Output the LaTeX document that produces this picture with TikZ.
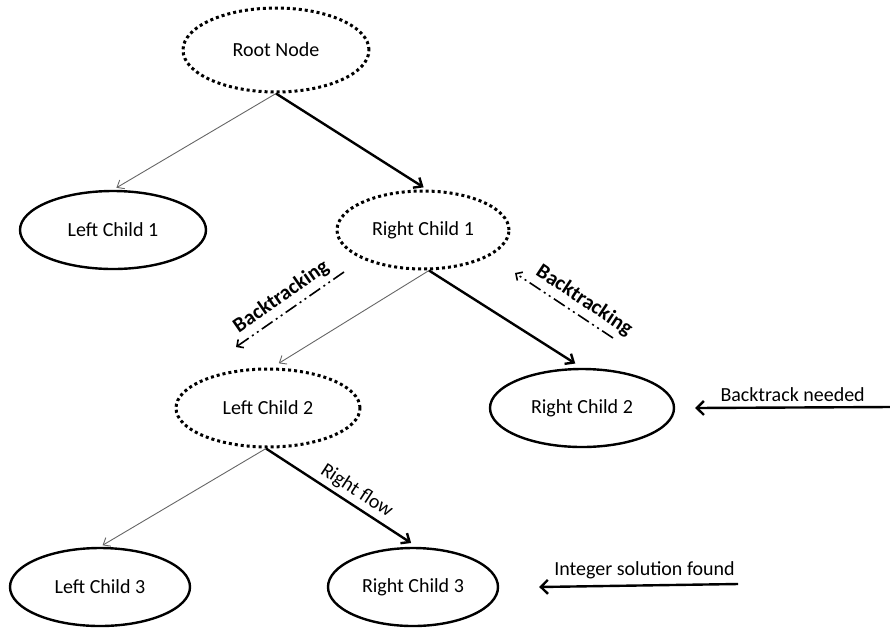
\documentclass[tikz,border=0pt]{standalone}
\usepackage{fontspec}
\setmainfont{Carlito}
\usetikzlibrary{arrows.meta,shapes.geometric}

\begin{document}
\begin{tikzpicture}[x=1pt,y=-1pt,
  every node/.style={font=\fontsize{20}{24}\selectfont},
  solidnode/.style={ellipse, draw, line width=2.4pt, inner sep=0pt,
    minimum width=184pt, minimum height=78pt},
  dottednode/.style={ellipse, draw, line width=3pt, inner sep=0pt,
    dash pattern=on 3pt off 3pt, minimum width=184pt, minimum height=78pt},
  thinedge/.style={draw=black!60, line width=0.9pt,
    -{Straight Barb[length=6pt,width=10pt]}},
  thickedge/.style={line width=2.4pt,
    -{Straight Barb[length=7pt,width=12pt]}},
  backedge/.style={line width=1.6pt,
    dash pattern=on 13pt off 4pt on 2pt off 4pt on 2pt off 4pt,
    -{Straight Barb[length=5pt,width=10pt]}},
  sidearrow/.style={line width=2.4pt,
    -{Straight Barb[length=7pt,width=14pt]}},
  boldlabel/.style={font=\fontsize{21}{25}\selectfont\bfseries}
]
\useasboundingbox (0,0) rectangle (890,630);

% tree nodes
\node[dottednode, minimum width=186pt, minimum height=84pt] (root) at (276,50) {Root Node};
\node[solidnode, minimum width=186pt] (lc1) at (113,230) {Left Child 1};
\node[dottednode, minimum width=172pt] (rc1) at (423,230) {Right Child 1};
\node[dottednode] (lc2) at (268,408) {Left Child 2};
\node[solidnode] (rc2) at (582,408) {Right Child 2};
\node[solidnode, minimum width=180pt] (lc3) at (100,587) {Left Child 3};
\node[solidnode, minimum width=170pt] (rc3) at (413,587) {Right Child 3};

% branches
\draw[thinedge, shorten >=4pt] (root.south) -- (lc1.north);
\draw[thickedge, shorten >=4pt] (root.south) -- ([xshift=4pt]rc1.north);
\draw[thinedge, shorten >=8pt] ([xshift=6pt]rc1.south) -- ([xshift=4pt]lc2.north);
\draw[thickedge, shorten >=8pt] ([xshift=6pt]rc1.south) -- (rc2.north);
\draw[thinedge, shorten >=3pt] ([xshift=-2pt]lc2.south) -- (lc3.north);
\draw[thickedge, shorten >=7pt] ([xshift=-2pt]lc2.south) -- ([xshift=4pt]rc3.north)
  node[pos=0.55, above, sloped, inner sep=4pt] {Right flow};

% backtracking paths
\coordinate (bl1) at (236,347);
\coordinate (bl2) at (344,272);
\coordinate (br1) at (515,273);
\coordinate (br2) at (613,338);
\draw[backedge] (bl2) -- (bl1);
\path (bl1) -- (bl2) node[pos=0.5, above, sloped, boldlabel, inner sep=6pt] {Backtracking};
\draw[backedge] (br2) -- (br1);
\path (br1) -- (br2) node[pos=0.62, above, sloped, boldlabel, inner sep=6pt] {Backtracking};

% side annotations
\coordinate (bn) at (890,407);
\coordinate (isf) at (738,584);
\draw[sidearrow] (bn) -- ([xshift=20pt]rc2.east)
  node[pos=0.5, above, inner sep=5pt] {Backtrack needed};
\draw[sidearrow] (isf) -- ([xshift=40pt]rc3.east)
  node[pos=0.47, above, inner sep=5pt] {Integer solution found};
\end{tikzpicture}
\end{document}
